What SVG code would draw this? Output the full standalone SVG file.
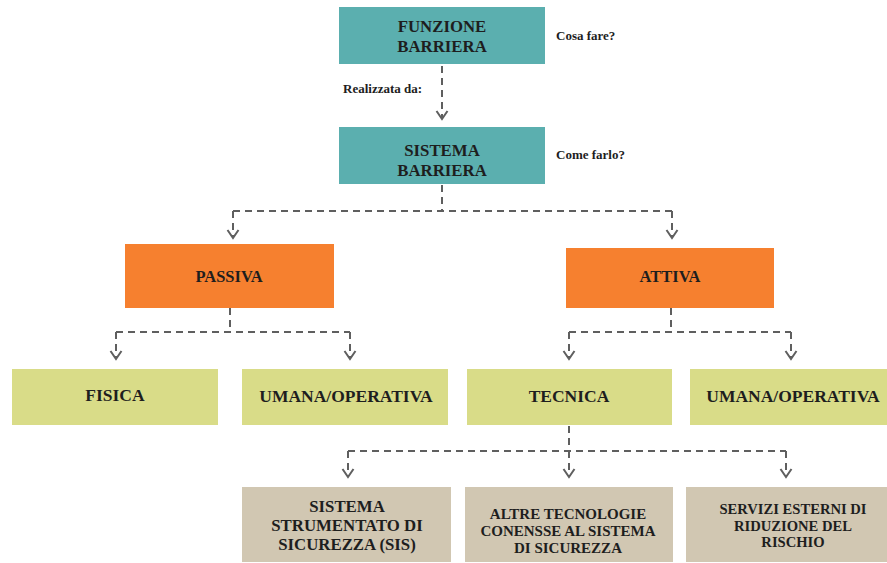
<svg xmlns="http://www.w3.org/2000/svg" width="887" height="563" viewBox="0 0 887 563">
  <defs>
    <marker id="chev" viewBox="-10 -7 12 14" markerWidth="12" markerHeight="14" refX="0" refY="0" orient="auto" markerUnits="userSpaceOnUse">
      <path d="M-8,-5.5 L0,0 L-8,5.5" fill="none" stroke="#5f5f5f" stroke-width="2"/>
    </marker>
    <style>
      .teal { fill: #5bafaf; }
      .orange { fill: #f6802f; }
      .olive { fill: #d9dc88; }
      .tan { fill: #d1c7b2; }
      text { font-family: "Liberation Serif", "Times New Roman", serif; font-weight: bold; fill: #1e1e1e; text-anchor: middle; }
      .t17 { font-size: 17.5px; }
      .t17s { font-size: 16.8px; }
      .t16 { font-size: 16.5px; }
      .t15 { font-size: 15px; }
      .t14 { font-size: 14.6px; }
      .note { font-size: 13px; text-anchor: start; }
      .conn path { fill: none; stroke: #5f5f5f; stroke-width: 2; stroke-dasharray: 7 5; }
      .conn path.arrow { marker-end: url(#chev); }
    </style>
  </defs>

  <rect width="887" height="563" fill="#ffffff"/>

  <!-- connectors -->
  <g id="connectors" class="conn">
    <path class="arrow" d="M442,66 V119"/>
    <path d="M442,185 V211 M233,211 H672"/>
    <path class="arrow" d="M233,211 V238"/>
    <path class="arrow" d="M672,211 V238"/>
    <path d="M230,308 V332 M116,332 H350"/>
    <path class="arrow" d="M116,332 V359"/>
    <path class="arrow" d="M350,332 V359"/>
    <path d="M671,308 V332 M569,332 H791"/>
    <path class="arrow" d="M569,332 V359"/>
    <path class="arrow" d="M791,332 V359"/>
    <path d="M569,426 V451 M348,451 H786"/>
    <path class="arrow" d="M348,451 V477"/>
    <path class="arrow" d="M569,451 V477"/>
    <path class="arrow" d="M786,451 V477"/>
  </g>

  <!-- side notes -->
  <text class="note" x="556" y="40">Cosa fare?</text>
  <text class="note" x="343" y="93">Realizzata da:</text>
  <text class="note" x="556" y="159">Come farlo?</text>

  <g id="funzione-barriera">
    <rect class="teal" x="339" y="7" width="206" height="57"/>
    <text class="t17s" x="442" y="32">FUNZIONE</text>
    <text class="t17s" x="442" y="52">BARRIERA</text>
  </g>

  <g id="sistema-barriera">
    <rect class="teal" x="339" y="127" width="206" height="57"/>
    <text class="t17s" x="442" y="156">SISTEMA</text>
    <text class="t17s" x="442" y="176">BARRIERA</text>
  </g>

  <g id="passiva">
    <rect class="orange" x="125" y="244" width="209" height="64"/>
    <text class="t16" x="229" y="282">PASSIVA</text>
  </g>

  <g id="attiva">
    <rect class="orange" x="566" y="248" width="208" height="60"/>
    <text class="t16" x="670" y="282">ATTIVA</text>
  </g>

  <g id="fisica">
    <rect class="olive" x="12" y="369" width="206" height="56"/>
    <text class="t17" x="115" y="401">FISICA</text>
  </g>

  <g id="umana-operativa-passiva">
    <rect class="olive" x="242" y="369" width="206" height="56"/>
    <text class="t17" x="346" y="402">UMANA/OPERATIVA</text>
  </g>

  <g id="tecnica">
    <rect class="olive" x="467" y="369" width="205" height="56"/>
    <text class="t17" x="569" y="402">TECNICA</text>
  </g>

  <g id="umana-operativa-attiva">
    <rect class="olive" x="690" y="369" width="197" height="56"/>
    <text class="t17" x="793" y="402">UMANA/OPERATIVA</text>
  </g>

  <g id="sis">
    <rect class="tan" x="242" y="487" width="209" height="75"/>
    <text class="t17s" x="347" y="512">SISTEMA</text>
    <text class="t17s" x="347" y="531">STRUMENTATO DI</text>
    <text class="t17s" x="347" y="550">SICUREZZA (SIS)</text>
  </g>

  <g id="altre-tecnologie">
    <rect class="tan" x="465" y="487" width="208" height="75"/>
    <text class="t15" x="568" y="519">ALTRE TECNOLOGIE</text>
    <text class="t15" x="568" y="536">CONENSSE AL SISTEMA</text>
    <text class="t15" x="568" y="553">DI SICUREZZA</text>
  </g>

  <g id="servizi-esterni">
    <rect class="tan" x="686" y="487" width="201" height="75"/>
    <text class="t14" x="793" y="514">SERVIZI ESTERNI DI</text>
    <text class="t14" x="793" y="531">RIDUZIONE DEL</text>
    <text class="t14" x="793" y="547">RISCHIO</text>
  </g>
</svg>
